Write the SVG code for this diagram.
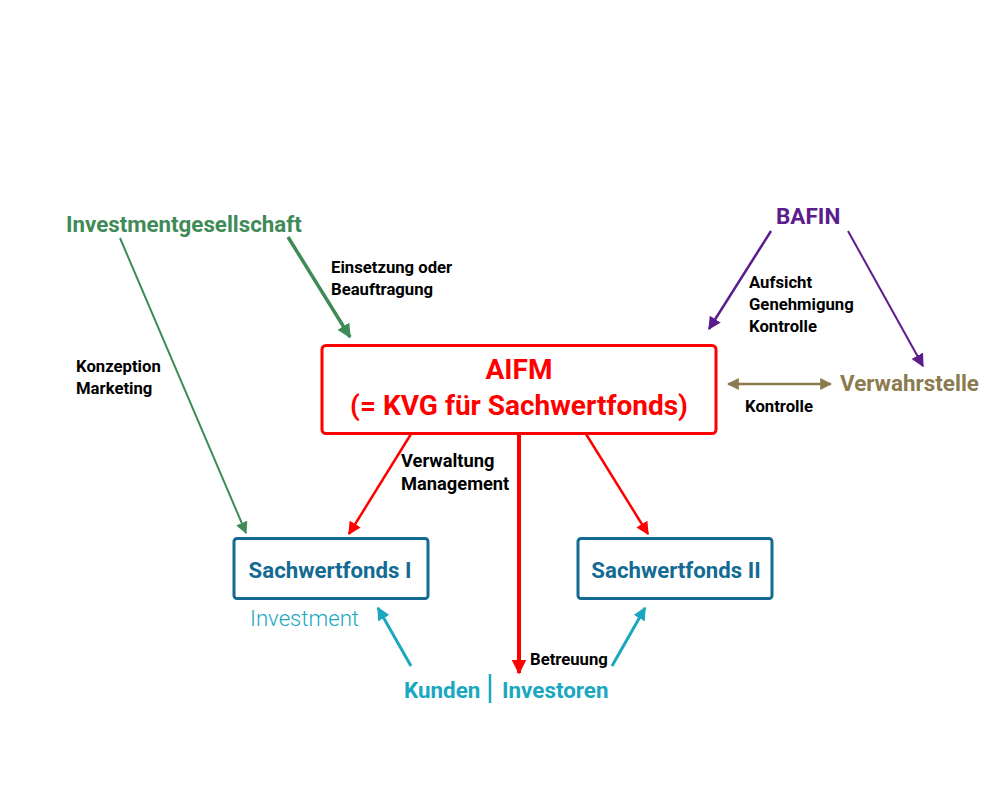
<svg xmlns="http://www.w3.org/2000/svg" width="1000" height="800" viewBox="0 0 1000 800">
<style>
text{font-family:Roboto,"Liberation Sans",sans-serif;font-weight:bold}
.lbl{font-size:16.7px;fill:#000}
.green{fill:#3f8b58}
.purple{fill:#5b1c8c}
.olive{fill:#8b7b4e}
.red{fill:#ff0000}
.blue{fill:#136a92}
.teal{fill:#1aa7bf}
.box{fill:#fff;stroke-width:3}
</style>
<defs>
<marker id="mgs" viewBox="0 0 10 10" refX="9" refY="5" markerWidth="12" markerHeight="12" orient="auto" markerUnits="userSpaceOnUse"><path d="M0,0 L10,5 L0,10 z" fill="#3f8b58"/></marker>
<marker id="mgb" viewBox="0 0 10 10" refX="9" refY="5" markerWidth="14" markerHeight="14" orient="auto" markerUnits="userSpaceOnUse"><path d="M0,0 L10,5 L0,10 z" fill="#3f8b58"/></marker>
<marker id="mp" viewBox="0 0 10 10" refX="9" refY="5" markerWidth="13" markerHeight="13" orient="auto" markerUnits="userSpaceOnUse"><path d="M0,0 L10,5 L0,10 z" fill="#5b1c8c"/></marker>
<marker id="mo" viewBox="0 0 10 10" refX="9" refY="5" markerWidth="12" markerHeight="12" orient="auto-start-reverse" markerUnits="userSpaceOnUse"><path d="M0,0 L10,5 L0,10 z" fill="#8b7b4e"/></marker>
<marker id="mr" viewBox="0 0 10 10" refX="9" refY="5" markerWidth="13" markerHeight="13" orient="auto" markerUnits="userSpaceOnUse"><path d="M0,0 L10,5 L0,10 z" fill="#ff0000"/></marker>
<marker id="mrb" viewBox="0 0 10 10" refX="9" refY="5" markerWidth="15" markerHeight="15" orient="auto" markerUnits="userSpaceOnUse"><path d="M0,0 L10,5 L0,10 z" fill="#ff0000"/></marker>
<marker id="mt" viewBox="0 0 10 10" refX="9" refY="5" markerWidth="13" markerHeight="13" orient="auto" markerUnits="userSpaceOnUse"><path d="M0,0 L10,5 L0,10 z" fill="#1aa7bf"/></marker>
</defs>
<g id="connectors" fill="none">
<line x1="120" y1="238" x2="246" y2="533" stroke="#3f8b58" stroke-width="2" marker-end="url(#mgs)"/>
<line x1="288" y1="237" x2="350" y2="337" stroke="#3f8b58" stroke-width="3.5" marker-end="url(#mgb)"/>
<line x1="771" y1="231" x2="709" y2="329" stroke="#5b1c8c" stroke-width="2.5" marker-end="url(#mp)"/>
<line x1="848" y1="231" x2="923" y2="366" stroke="#5b1c8c" stroke-width="2" marker-end="url(#mp)"/>
<line x1="728" y1="384" x2="831" y2="384" stroke="#8b7b4e" stroke-width="2.5" marker-start="url(#mo)" marker-end="url(#mo)"/>
<line x1="411" y1="434" x2="349" y2="534" stroke="#ff0000" stroke-width="2.5" marker-end="url(#mr)"/>
<line x1="586" y1="434" x2="648" y2="534" stroke="#ff0000" stroke-width="2.5" marker-end="url(#mr)"/>
<line x1="519" y1="434" x2="519" y2="673" stroke="#ff0000" stroke-width="4" marker-end="url(#mrb)"/>
<line x1="411" y1="666" x2="378" y2="608" stroke="#1aa7bf" stroke-width="3" marker-end="url(#mt)"/>
<line x1="612" y1="666" x2="645" y2="608" stroke="#1aa7bf" stroke-width="3" marker-end="url(#mt)"/>
</g>
<g id="labels">
<text class="lbl" x="331" y="273">Einsetzung oder</text>
<text class="lbl" x="331" y="295">Beauftragung</text>
<text class="lbl" x="76" y="372">Konzeption</text>
<text class="lbl" x="76" y="394">Marketing</text>
<text class="lbl" x="749" y="288">Aufsicht</text>
<text class="lbl" x="749" y="310">Genehmigung</text>
<text class="lbl" x="749" y="332">Kontrolle</text>
<text class="lbl" x="745" y="412">Kontrolle</text>
<text class="lbl" x="401" y="467" style="font-size:18.3px">Verwaltung</text>
<text class="lbl" x="401" y="490" style="font-size:18.3px">Management</text>
<text class="lbl" x="530" y="665">Betreuung</text>
</g>
<g id="investmentgesellschaft">
<text class="green" x="66" y="232" font-size="22.3">Investmentgesellschaft</text>
</g>
<g id="bafin">
<text class="purple" x="776" y="224" font-size="22.5">BAFIN</text>
</g>
<g id="verwahrstelle">
<text class="olive" x="840" y="391" font-size="22.4">Verwahrstelle</text>
</g>
<g id="aifm">
<rect class="box" x="322" y="345.5" width="394" height="88" rx="4" stroke="#ff0000"/>
<text class="red" x="519" y="379" font-size="28" text-anchor="middle">AIFM</text>
<text class="red" x="519" y="415" font-size="28" text-anchor="middle">(= KVG für Sachwertfonds)</text>
</g>
<g id="sachwertfonds1">
<rect class="box" x="234" y="538.5" width="194" height="60" rx="3" stroke="#136a92"/>
<text class="blue" x="330" y="578" font-size="22.2" text-anchor="middle">Sachwertfonds I</text>
</g>
<g id="sachwertfonds2">
<rect class="box" x="578" y="538.5" width="194" height="60" rx="3" stroke="#136a92"/>
<text class="blue" x="676" y="578" font-size="22.2" text-anchor="middle">Sachwertfonds II</text>
</g>
<g id="investment">
<text class="teal" x="250" y="626" font-size="22.2" style="font-weight:300">Investment</text>
</g>
<g id="kunden">
<text class="teal" x="404" y="698" font-size="22.4">Kunden</text>
<line x1="490" y1="674" x2="490" y2="703" stroke="#1aa7bf" stroke-width="2.5"/>
<text class="teal" x="502" y="698" font-size="22.4">Investoren</text>
</g>
</svg>
